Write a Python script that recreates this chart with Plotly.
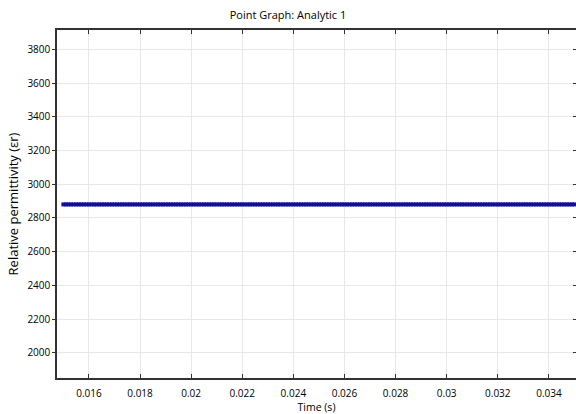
import numpy as np
import plotly.graph_objects as go

# Sample times (s) of the analytic function evaluation
time_start = 0.015
time_end = 0.035
time_step = 0.0001
times = np.arange(time_start, time_end + time_step / 2, time_step)
# Relative permittivity (constant analytic value)
permittivity_value = 2880
permittivity = [permittivity_value] * len(times)

x_ticks = [0.016, 0.018, 0.02, 0.022, 0.024, 0.026, 0.028, 0.03, 0.032, 0.034]
x_tick_labels = ["0.016", "0.018", "0.02", "0.022", "0.024", "0.026", "0.028", "0.03", "0.032", "0.034"]
y_ticks = [2000, 2200, 2400, 2600, 2800, 3000, 3200, 3400, 3600, 3800]

x_range = [0.01475, 0.03506]
y_range = [1850, 3915]

fig = go.Figure()
fig.add_trace(go.Scatter(
    x=times, y=permittivity, mode="lines+markers",
    line=dict(color="#10109c", width=3),
    marker=dict(symbol="square", size=4, color="#10109c"),
    showlegend=False,
))
# invisible trace so the right-hand tick axis is drawn
fig.add_trace(go.Scatter(
    x=times, y=permittivity, yaxis="y2", mode="lines",
    line=dict(width=0), opacity=0, hoverinfo="skip", showlegend=False,
))

font = "Open Sans, DejaVu Sans, sans-serif"
fig.update_layout(
    width=576, height=414,
    margin=dict(l=57, r=0, t=30, b=36),
    paper_bgcolor="white", plot_bgcolor="white",
    font=dict(family=font, size=10, color="#000000"),
    title=dict(text="Point Graph: Analytic 1", x=0.5, xanchor="center",
               y=0.963, yanchor="middle", font=dict(size=11, color="#000000")),
    yaxis2=dict(range=y_range, tickvals=y_ticks, overlaying="y", side="right",
                showticklabels=False, ticks="inside", ticklen=3,
                tickcolor="#333333", showgrid=False, showline=False,
                zeroline=False),
)
fig.update_xaxes(
    range=x_range, tickvals=x_ticks, ticktext=x_tick_labels,
    showgrid=True, gridcolor="#e8e8e8", gridwidth=1,
    showline=True, linecolor="#333333", linewidth=1.5, mirror="ticks",
    ticks="inside", ticklen=4, tickcolor="#333333", ticklabelstandoff=5,
    title=dict(text="Time (s)", standoff=6, font=dict(size=10.5)),
    zeroline=False,
)
fig.layout.yaxis.update(
    range=y_range, tickvals=y_ticks,
    showgrid=True, gridcolor="#e8e8e8", gridwidth=1,
    showline=True, linecolor="#333333", linewidth=1.5, mirror=False,
    ticks="outside", ticklen=3, tickcolor="#333333",
    title=dict(text="Relative permittivity (εr)", standoff=6, font=dict(size=13)),
    zeroline=False,
)

fig.write_html("out.html")
